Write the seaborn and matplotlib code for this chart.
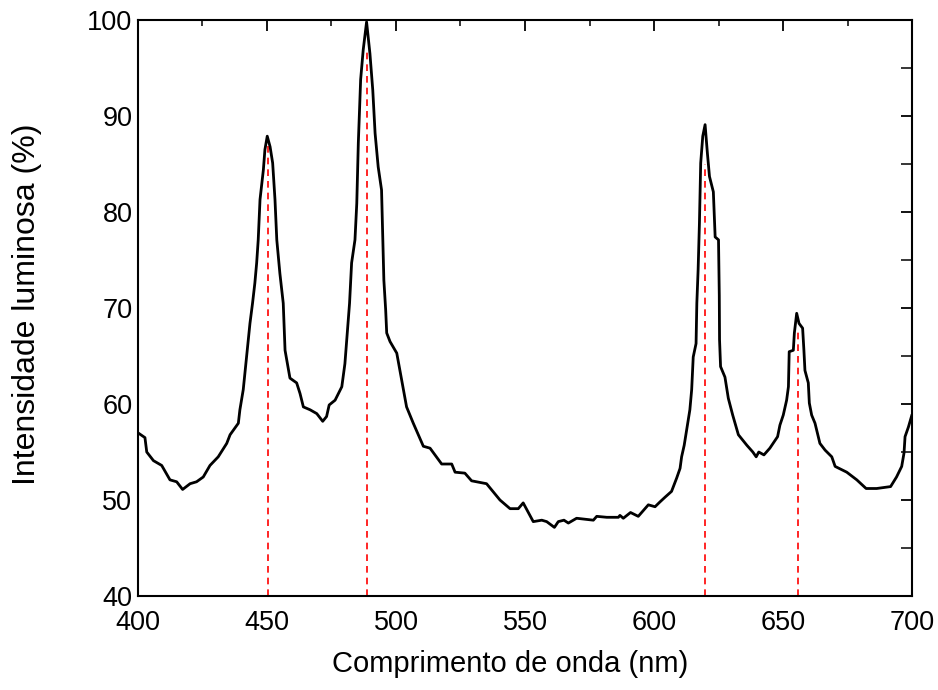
import matplotlib
matplotlib.use("Agg")
import matplotlib.pyplot as plt
import seaborn as sns
import pandas as pd
from matplotlib.ticker import MultipleLocator

wavelength = [400.0, 402.7, 403.4, 406.0, 409.2, 412.4, 415.0, 417.3, 420.2, 422.7, 425.3, 427.9,
              431.1, 434.4, 435.7, 438.9, 439.5, 440.8, 442.1, 443.4, 444.4, 445.3, 446.0, 446.6,
              447.3, 448.6, 449.2, 450.1, 451.2, 452.2, 453.1, 453.8, 455.0, 456.3, 457.0, 458.9,
              461.5, 462.8, 464.1, 466.7, 469.3, 471.6, 473.1, 474.1, 476.4, 479.0, 480.2, 481.0,
              482.0, 482.8, 484.1, 484.8, 485.4, 486.3, 487.3, 488.6, 489.9, 491.0, 491.9, 493.1,
              494.4, 494.8, 495.3, 496.0, 496.4, 497.7, 500.3, 502.2, 504.1, 506.7, 510.6, 513.2,
              517.7, 521.6, 522.9, 526.7, 529.3, 535.1, 540.3, 544.2, 547.4, 549.3, 553.2, 556.5,
              558.4, 561.4, 562.9, 565.1, 566.8, 570.0, 576.5, 577.8, 581.7, 586.2, 586.8, 588.1,
              590.9, 593.9, 597.8, 600.4, 602.3, 604.3, 606.8, 608.8, 610.1, 610.7, 611.7, 612.4,
              613.0, 613.9, 614.6, 615.2, 616.3, 616.6, 617.1, 617.6, 618.1, 618.9, 619.8, 620.7,
              621.5, 623.0, 623.7, 625.0, 625.3, 625.4, 625.8, 627.5, 628.8, 630.5, 632.7, 636.0,
              638.3, 639.6, 640.6, 642.6, 644.9, 647.9, 648.8, 650.1, 651.4, 652.1, 652.3, 652.4,
              654.0, 654.4, 655.3, 656.2, 657.6, 658.1, 658.5, 659.8, 660.2, 661.1, 662.4, 664.3,
              666.3, 668.9, 670.2, 674.7, 678.6, 682.2, 686.3, 691.7, 694.0, 696.0, 696.9, 697.3,
              698.6, 700.0]
intensity = [57.0, 56.5, 55.0, 54.1, 53.6, 52.1, 51.9, 51.1, 51.7, 51.9, 52.4, 53.6,
             54.5, 55.9, 56.8, 58.0, 59.4, 61.5, 64.9, 68.4, 70.5, 72.6, 74.7, 77.1,
             81.3, 84.4, 86.5, 87.9, 86.8, 85.1, 81.3, 77.1, 73.6, 70.5, 65.6, 62.7,
             62.2, 61.1, 59.7, 59.4, 59.0, 58.2, 58.7, 59.9, 60.4, 61.8, 64.2, 67.0,
             70.5, 74.7, 77.1, 80.9, 87.2, 93.8, 96.9, 99.8, 96.5, 92.7, 88.2, 84.7,
             82.3, 78.1, 72.9, 69.8, 67.4, 66.5, 65.3, 62.5, 59.7, 58.0, 55.6, 55.4,
             53.75, 53.75, 52.9, 52.8, 52.0, 51.7, 50.0, 49.1, 49.1, 49.7, 47.75, 47.9,
             47.75, 47.15, 47.75, 47.9, 47.6, 48.1, 47.9, 48.3, 48.2, 48.2, 48.4, 48.1,
             48.7, 48.3, 49.5, 49.3, 49.8, 50.3, 50.9, 52.3, 53.3, 54.5, 55.7, 56.9,
             58.0, 59.4, 61.5, 64.9, 66.3, 70.5, 74.0, 78.8, 85.1, 87.9, 89.1, 86.1,
             83.7, 82.1, 77.4, 77.1, 71.3, 66.7, 63.9, 62.8, 60.6, 58.85, 56.8, 55.7,
             55.0, 54.5, 55.0, 54.7, 55.4, 56.6, 57.8, 58.85, 60.4, 61.8, 64.2, 65.45,
             65.6, 67.4, 69.45, 68.4, 67.9, 65.6, 63.5, 62.2, 60.1, 58.85, 58.0, 55.9,
             55.2, 54.5, 53.5, 52.9, 52.1, 51.2, 51.2, 51.4, 52.4, 53.5, 54.9, 56.6,
             57.6, 58.9]

peak_positions = [450.2, 488.9, 619.8, 655.7]
peak_tops = [87.5, 97.0, 85.0, 67.5]

df = pd.DataFrame({"wl": wavelength, "I": intensity})

sns.set_theme(style="white")
plt.rcParams["font.family"] = ["Liberation Sans", "DejaVu Sans"]

fig = plt.figure(figsize=(9.38, 6.90), dpi=100)
ax = fig.add_axes([0.1471, 0.1362, 0.8252, 0.8348])

sns.lineplot(data=df, x="wl", y="I", ax=ax, color="black", linewidth=2.0,
             sort=False, estimator=None)
ax.vlines(peak_positions, 40, peak_tops, colors="#ff0000", linestyles=(0, (4, 3)),
          linewidth=1.2, zorder=1)

ax.set_xlim(400, 700)
ax.set_ylim(40, 100)
ax.xaxis.set_major_locator(MultipleLocator(50))
ax.xaxis.set_minor_locator(MultipleLocator(25))
ax.yaxis.set_major_locator(MultipleLocator(10))
ax.yaxis.set_minor_locator(MultipleLocator(5))
ax.tick_params(axis="both", which="major", direction="in", length=8, width=1.3,
               top=True, right=True, labelsize=19.5, colors="black", pad=4)
ax.tick_params(axis="x", which="major", pad=10)
ax.tick_params(axis="x", which="minor", direction="in", length=4, width=1.3, top=True)
ax.tick_params(axis="y", which="minor", direction="in", length=8, width=1.3, right=True)
for s in ax.spines.values():
    s.set_color("black")
    s.set_linewidth(1.5)

ax.set_xlabel("Comprimento de onda (nm)", fontsize=21, color="black")
ax.set_ylabel("Intensidade luminosa (%)", fontsize=23, color="black")
ax.xaxis.set_label_coords(0.4806, -0.094)
ax.yaxis.set_label_coords(-0.124, 0.507)

fig.savefig("out.png", dpi=100)
